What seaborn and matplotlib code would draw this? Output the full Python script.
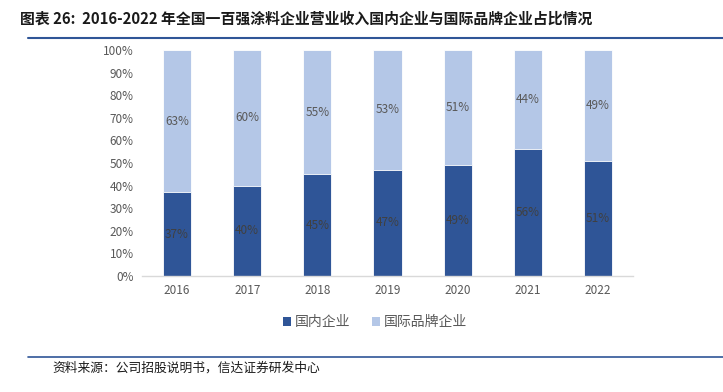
import matplotlib
matplotlib.use("Agg")
import matplotlib.pyplot as plt
import seaborn as sns
import pandas as pd
from matplotlib.patches import Patch
from matplotlib.lines import Line2D

years = ["2016", "2017", "2018", "2019", "2020", "2021", "2022"]
domestic = [37, 40, 45, 47, 49, 56, 51]
international = [63, 60, 55, 53, 51, 44, 49]
series_names = ["国内企业", "国际品牌企业"]
title = "图表 26:  2016-2022 年全国一百强涂料企业营业收入国内企业与国际品牌企业占比情况"
source = "资料来源：公司招股说明书，信达证券研发中心"

sns.set_theme(style="white")
plt.rcParams['font.family'] = ['Noto Sans CJK SC', 'DejaVu Sans']

dark = "#2F5597"
light = "#B4C7E7"
gray = "#595959"

df = pd.DataFrame({"year": years, "domestic": domestic, "international": international})
df["total"] = df["domestic"] + df["international"]

fig = plt.figure(figsize=(7.23, 3.92), dpi=100)
ax = fig.add_axes([142/723, 1-276/392, 491/723, 226/392])

sns.barplot(data=df, x="year", y="total", color=light, width=0.4, ax=ax,
            saturation=1, edgecolor="white", linewidth=0.6)
sns.barplot(data=df, x="year", y="domestic", color=dark, width=0.4, ax=ax,
            saturation=1, edgecolor="white", linewidth=0.6)

for i, (d, n) in enumerate(zip(domestic, international)):
    ax.text(i, d/2, f"{d}%", ha="center", va="center", fontsize=8.5, color="#404040")
    ax.text(i, d + n/2, f"{n}%", ha="center", va="center", fontsize=8.5, color=gray)

ax.set_ylim(0, 100)
ax.set_yticks(range(0, 101, 10))
ax.set_yticklabels([f"{v}%" for v in range(0, 101, 10)])
ax.set_xlim(-0.5, len(years)-0.5)
ax.set_xlabel("")
ax.set_ylabel("")
ax.tick_params(axis="both", labelsize=8.5, colors=gray, length=0, pad=6)
for s in ["top", "right", "left"]:
    ax.spines[s].set_visible(False)
ax.spines["bottom"].set_color("#D9D9D9")
ax.spines["bottom"].set_linewidth(1)
ax.grid(False)

handles = [Patch(facecolor=dark, edgecolor="none"), Patch(facecolor=light, edgecolor="none")]
fig.legend(handles, series_names, loc="center", bbox_to_anchor=(375/723, 1-322/392),
           ncol=2, frameon=False, fontsize=10, handlelength=0.6, handleheight=0.6,
           handletextpad=0.3, columnspacing=1.5, labelcolor=gray)

fig.text(20/723, 1-19/392, title, fontsize=10.7, fontweight="bold", color="#1a1a1a",
         ha="left", va="center")
fig.add_artist(Line2D([28/723, 1], [1-38/392, 1-38/392], color="#2F5597", lw=1.5,
                      transform=fig.transFigure))
fig.add_artist(Line2D([28/723, 1], [1-357/392, 1-357/392], color="#2F5597", lw=1.2,
                      transform=fig.transFigure))
fig.text(52/723, 1-368/392, source, fontsize=9.2, style="italic", color="#1a1a1a",
         ha="left", va="center")

fig.savefig("out.png", dpi=100)
